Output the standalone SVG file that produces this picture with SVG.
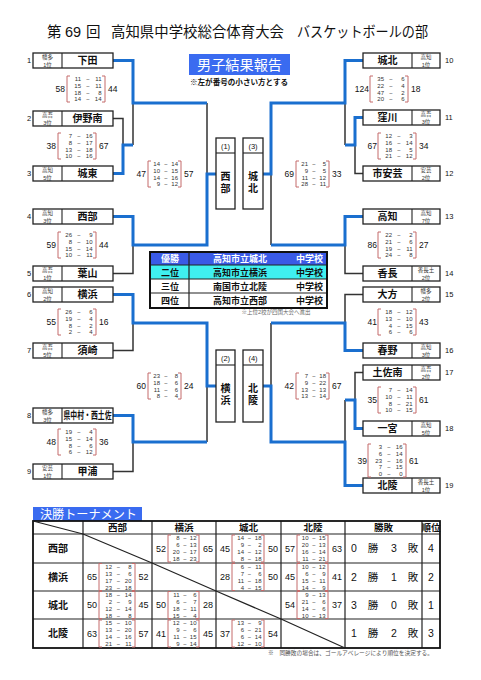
<svg xmlns="http://www.w3.org/2000/svg" width="481" height="680" viewBox="0 0 481 680">
<style>
text{font-family:"Liberation Sans","Noto Sans CJK JP",sans-serif;fill:#111}
.blue{stroke:#1a6fcf;stroke-width:3;fill:none}
.dark{stroke:#333;stroke-width:1.5;fill:none}
.box{fill:#fff;stroke:#222;stroke-width:1.3}
.dv{stroke:#222;stroke-width:1.1}
.nm{font-size:10px;font-weight:bold;text-anchor:middle}
.sm{font-size:5.5px;text-anchor:middle;fill:#333}
.no{font-size:7.5px;text-anchor:middle}
.bk path{stroke:#c46a6a;stroke-width:1;fill:none}
.s{font-size:6px;fill:#333}
.sc{font-size:8.5px}
.e{text-anchor:end}
.m{text-anchor:middle}
.tb{stroke:#222;stroke-width:1.2;fill:none}
.th{font-size:9.5px;font-weight:bold;text-anchor:middle}
.rl{font-size:10px;font-weight:bold;text-anchor:middle}
.ts{font-size:9px}
.wl{font-size:10.5px;text-anchor:middle}
.rk{font-size:9px;font-weight:bold}
</style>

<g id="title">
<text x="47" y="37" font-size="14.5">第</text>
<text x="65" y="37" font-size="14.5">69</text>
<text x="86" y="37" font-size="14.5">回</text>
<text x="111" y="37" font-size="14.5" textLength="173" lengthAdjust="spacingAndGlyphs">高知県中学校総合体育大会</text>
<text x="297" y="37" font-size="14.5" textLength="131" lengthAdjust="spacingAndGlyphs">バスケットボールの部</text>
</g>

<g id="header">
<rect x="189" y="54" width="101" height="21" fill="#3a6bf0"/>
<text x="239.5" y="70" font-size="14" fill="#fff" style="fill:#fff" text-anchor="middle" textLength="85" lengthAdjust="spacingAndGlyphs">男子結果報告</text>
<text x="239" y="85" font-size="7.5" font-weight="bold" text-anchor="middle" textLength="98" lengthAdjust="spacingAndGlyphs">※左が番号の小さい方とする</text>
</g>

<g id="connectors">
<path class="dark" d="M133 103V145M113 118.5H123V145M207 103V174M133 245V273.5H113M133 323V350.5H113M207 386V442M133 442V471.5H113"/>
<path class="dark" d="M345 103V145M355 145V173.5H363M271 174V245M345 245V273.5H363M363 294.5H345V323M271 323V386M363 372.5H355V400M345 400V442"/>
<path class="blue" d="M113 60.5H133V103H207M113 173.5H123V145H133M216 174H207V245H133V216.5H113M113 294.5H133V323H207V386H216M113 415.5H133V442H207"/>
<path class="blue" d="M363 60.5H345V103H271V174H263M363 117.5H355V145H345M363 216.5H345V245H271M271 323H345V350.5H363M345 400H355V428.5H363M263 386H271V442H345V485.5H363"/>
</g>

<g id="L1"><rect class="box" x="33" y="53" width="80" height="15"/><line class="dv" x1="62" y1="53" x2="62" y2="68"/><text class="sm" x="47.5" y="59">幡多</text><text class="sm" x="47.5" y="66.5">1位</text><text class="nm" x="87.5" y="64.3">下田</text><text class="no" x="29" y="63.2">1</text></g>
<g id="L2"><rect class="box" x="33" y="111" width="80" height="15"/><line class="dv" x1="62" y1="111" x2="62" y2="126"/><text class="sm" x="47.5" y="117">高吾</text><text class="sm" x="47.5" y="124.5">3位</text><text class="nm" x="87.5" y="122.3">伊野南</text><text class="no" x="29" y="121.2">2</text></g>
<g id="L3"><rect class="box" x="33" y="166" width="80" height="15"/><line class="dv" x1="62" y1="166" x2="62" y2="181"/><text class="sm" x="47.5" y="172">高知</text><text class="sm" x="47.5" y="179.5">5位</text><text class="nm" x="87.5" y="177.3">城東</text><text class="no" x="29" y="176.2">3</text></g>
<g id="L4"><rect class="box" x="33" y="209" width="80" height="15"/><line class="dv" x1="62" y1="209" x2="62" y2="224"/><text class="sm" x="47.5" y="215">高知</text><text class="sm" x="47.5" y="222.5">3位</text><text class="nm" x="87.5" y="220.3">西部</text><text class="no" x="29" y="219.2">4</text></g>
<g id="L5"><rect class="box" x="33" y="266" width="80" height="15"/><line class="dv" x1="62" y1="266" x2="62" y2="281"/><text class="sm" x="47.5" y="272">高吾</text><text class="sm" x="47.5" y="279.5">1位</text><text class="nm" x="87.5" y="277.3">葉山</text><text class="no" x="29" y="276.2">5</text></g>
<g id="L6"><rect class="box" x="33" y="287" width="80" height="15"/><line class="dv" x1="62" y1="287" x2="62" y2="302"/><text class="sm" x="47.5" y="293">高知</text><text class="sm" x="47.5" y="300.5">2位</text><text class="nm" x="87.5" y="298.3">横浜</text><text class="no" x="29" y="297.2">6</text></g>
<g id="L7"><rect class="box" x="33" y="343" width="80" height="15"/><line class="dv" x1="62" y1="343" x2="62" y2="358"/><text class="sm" x="47.5" y="349">高吾</text><text class="sm" x="47.5" y="356.5">5位</text><text class="nm" x="87.5" y="354.3">須崎</text><text class="no" x="29" y="353.2">7</text></g>
<g id="L8"><rect class="box" x="33" y="408" width="80" height="15"/><line class="dv" x1="62" y1="408" x2="62" y2="423"/><text class="sm" x="47.5" y="414">幡多</text><text class="sm" x="47.5" y="421.5">3位</text><text class="nm" x="87.5" y="418.8" font-size="7.5" textLength="48" lengthAdjust="spacingAndGlyphs">県中村・西土佐</text><text class="no" x="29" y="418.2">8</text></g>
<g id="L9"><rect class="box" x="33" y="464" width="80" height="15"/><line class="dv" x1="62" y1="464" x2="62" y2="479"/><text class="sm" x="47.5" y="470">安芸</text><text class="sm" x="47.5" y="477.5">1位</text><text class="nm" x="87.5" y="475.3">甲浦</text><text class="no" x="29" y="474.2">9</text></g>

<g id="R10"><rect class="box" x="363" y="53" width="77" height="15"/><line class="dv" x1="412" y1="53" x2="412" y2="68"/><text class="sm" x="426" y="59">高知</text><text class="sm" x="426" y="66.5">1位</text><text class="nm" x="387.5" y="64.3">城北</text><text x="445" y="63.2" font-size="7.5">10</text></g>
<g id="R11"><rect class="box" x="363" y="110" width="77" height="15"/><line class="dv" x1="412" y1="110" x2="412" y2="125"/><text class="sm" x="426" y="116">高吾</text><text class="sm" x="426" y="123.5">3位</text><text class="nm" x="387.5" y="121.3">窪川</text><text x="445" y="120.2" font-size="7.5">11</text></g>
<g id="R12"><rect class="box" x="363" y="166" width="77" height="15"/><line class="dv" x1="412" y1="166" x2="412" y2="181"/><text class="sm" x="426" y="172">安芸</text><text class="sm" x="426" y="179.5">2位</text><text class="nm" x="387.5" y="177.3">市安芸</text><text x="445" y="176.2" font-size="7.5">12</text></g>
<g id="R13"><rect class="box" x="363" y="209" width="77" height="15"/><line class="dv" x1="412" y1="209" x2="412" y2="224"/><text class="sm" x="426" y="215">高知</text><text class="sm" x="426" y="222.5">7位</text><text class="nm" x="387.5" y="220.3">高知</text><text x="445" y="219.2" font-size="7.5">13</text></g>
<g id="R14"><rect class="box" x="363" y="266" width="77" height="15"/><line class="dv" x1="412" y1="266" x2="412" y2="281"/><text class="sm" x="426" y="272">香長土</text><text class="sm" x="426" y="279.5">2位</text><text class="nm" x="387.5" y="277.3">香長</text><text x="445" y="276.2" font-size="7.5">14</text></g>
<g id="R15"><rect class="box" x="363" y="287" width="77" height="15"/><line class="dv" x1="412" y1="287" x2="412" y2="302"/><text class="sm" x="426" y="293">幡多</text><text class="sm" x="426" y="300.5">2位</text><text class="nm" x="387.5" y="298.3">大方</text><text x="445" y="297.2" font-size="7.5">15</text></g>
<g id="R16"><rect class="box" x="363" y="343" width="77" height="15"/><line class="dv" x1="412" y1="343" x2="412" y2="358"/><text class="sm" x="426" y="349">高知</text><text class="sm" x="426" y="356.5">3位</text><text class="nm" x="387.5" y="354.3">春野</text><text x="445" y="353.2" font-size="7.5">16</text></g>
<g id="R17"><rect class="box" x="363" y="365" width="77" height="15"/><line class="dv" x1="412" y1="365" x2="412" y2="380"/><text class="sm" x="426" y="371">高吾</text><text class="sm" x="426" y="378.5">2位</text><text class="nm" x="387.5" y="376.3">土佐南</text><text x="445" y="375.2" font-size="7.5">17</text></g>
<g id="R18"><rect class="box" x="363" y="421" width="77" height="15"/><line class="dv" x1="412" y1="421" x2="412" y2="436"/><text class="sm" x="426" y="427">高知</text><text class="sm" x="426" y="434.5">5位</text><text class="nm" x="387.5" y="432.3">一宮</text><text x="445" y="431.2" font-size="7.5">18</text></g>
<g id="R19"><rect class="box" x="363" y="478" width="77" height="15"/><line class="dv" x1="412" y1="478" x2="412" y2="493"/><text class="sm" x="426" y="484">香長土</text><text class="sm" x="426" y="491.5">1位</text><text class="nm" x="387.5" y="489.3">北陵</text><text x="445" y="488.2" font-size="7.5">19</text></g>

<g id="F1"><rect class="box" x="216" y="138" width="19" height="71"/><line class="dv" x1="216" y1="153" x2="235" y2="153"/><text x="225.5" y="148.5" font-size="7.5" text-anchor="middle">(1)</text><text class="nm" x="225.5" y="180" font-size="11">西</text><text class="nm" x="225.5" y="191.5" font-size="11">部</text></g>
<g id="F3"><rect class="box" x="243" y="138" width="20" height="71"/><line class="dv" x1="243" y1="153" x2="263" y2="153"/><text x="253" y="148.5" font-size="7.5" text-anchor="middle">(3)</text><text class="nm" x="253" y="180" font-size="11">城</text><text class="nm" x="253" y="191.5" font-size="11">北</text></g>
<g id="F2"><rect class="box" x="216" y="350" width="19" height="72"/><line class="dv" x1="216" y1="365" x2="235" y2="365"/><text x="225.5" y="360.5" font-size="7.5" text-anchor="middle">(2)</text><text class="nm" x="225.5" y="392" font-size="11">横</text><text class="nm" x="225.5" y="403.5" font-size="11">浜</text></g>
<g id="F4"><rect class="box" x="243" y="350" width="20" height="72"/><line class="dv" x1="243" y1="365" x2="263" y2="365"/><text x="253" y="360.5" font-size="7.5" text-anchor="middle">(4)</text><text class="nm" x="253" y="392" font-size="11">北</text><text class="nm" x="253" y="403.5" font-size="11">陵</text></g>

<g id="scores">
<g class="bk" transform="translate(67,89)"><path d="M3-13H0V13H3M35-13H38V13H35"/><text class="sc e" x="-2" y="3">58</text><text class="sc" x="41" y="3">44</text>
<text class="s" y="-8.1"><tspan x="14" class="e">11</tspan><tspan x="21" class="m">−</tspan><tspan x="34.5" class="e">11</tspan></text>
<text class="s" y="-1.3"><tspan x="14" class="e">15</tspan><tspan x="21" class="m">−</tspan><tspan x="34.5" class="e">11</tspan></text>
<text class="s" y="5.5"><tspan x="14" class="e">18</tspan><tspan x="21" class="m">−</tspan><tspan x="34.5" class="e">8</tspan></text>
<text class="s" y="12.3"><tspan x="14" class="e">14</tspan><tspan x="21" class="m">−</tspan><tspan x="34.5" class="e">14</tspan></text></g>

<g class="bk" transform="translate(58,146)"><path d="M3-13H0V13H3M35-13H38V13H35"/><text class="sc e" x="-2" y="3">38</text><text class="sc" x="41" y="3">67</text>
<text class="s" y="-8.1"><tspan x="14" class="e">7</tspan><tspan x="21" class="m">−</tspan><tspan x="34.5" class="e">16</tspan></text>
<text class="s" y="-1.3"><tspan x="14" class="e">8</tspan><tspan x="21" class="m">−</tspan><tspan x="34.5" class="e">17</tspan></text>
<text class="s" y="5.5"><tspan x="14" class="e">13</tspan><tspan x="21" class="m">−</tspan><tspan x="34.5" class="e">18</tspan></text>
<text class="s" y="12.3"><tspan x="14" class="e">10</tspan><tspan x="21" class="m">−</tspan><tspan x="34.5" class="e">16</tspan></text></g>

<g class="bk" transform="translate(58,245)"><path d="M3-13H0V13H3M35-13H38V13H35"/><text class="sc e" x="-2" y="3">59</text><text class="sc" x="41" y="3">44</text>
<text class="s" y="-8.1"><tspan x="14" class="e">26</tspan><tspan x="21" class="m">−</tspan><tspan x="34.5" class="e">9</tspan></text>
<text class="s" y="-1.3"><tspan x="14" class="e">8</tspan><tspan x="21" class="m">−</tspan><tspan x="34.5" class="e">10</tspan></text>
<text class="s" y="5.5"><tspan x="14" class="e">15</tspan><tspan x="21" class="m">−</tspan><tspan x="34.5" class="e">14</tspan></text>
<text class="s" y="12.3"><tspan x="14" class="e">10</tspan><tspan x="21" class="m">−</tspan><tspan x="34.5" class="e">11</tspan></text></g>

<g class="bk" transform="translate(58,322)"><path d="M3-13H0V13H3M35-13H38V13H35"/><text class="sc e" x="-2" y="3">55</text><text class="sc" x="41" y="3">16</text>
<text class="s" y="-8.1"><tspan x="14" class="e">26</tspan><tspan x="21" class="m">−</tspan><tspan x="34.5" class="e">6</tspan></text>
<text class="s" y="-1.3"><tspan x="14" class="e">19</tspan><tspan x="21" class="m">−</tspan><tspan x="34.5" class="e">4</tspan></text>
<text class="s" y="5.5"><tspan x="14" class="e">8</tspan><tspan x="21" class="m">−</tspan><tspan x="34.5" class="e">2</tspan></text>
<text class="s" y="12.3"><tspan x="14" class="e">2</tspan><tspan x="21" class="m">−</tspan><tspan x="34.5" class="e">4</tspan></text></g>

<g class="bk" transform="translate(58,442)"><path d="M3-13H0V13H3M35-13H38V13H35"/><text class="sc e" x="-2" y="3">48</text><text class="sc" x="41" y="3">36</text>
<text class="s" y="-8.1"><tspan x="14" class="e">19</tspan><tspan x="21" class="m">−</tspan><tspan x="34.5" class="e">4</tspan></text>
<text class="s" y="-1.3"><tspan x="14" class="e">15</tspan><tspan x="21" class="m">−</tspan><tspan x="34.5" class="e">14</tspan></text>
<text class="s" y="5.5"><tspan x="14" class="e">8</tspan><tspan x="21" class="m">−</tspan><tspan x="34.5" class="e">6</tspan></text>
<text class="s" y="12.3"><tspan x="14" class="e">6</tspan><tspan x="21" class="m">−</tspan><tspan x="34.5" class="e">12</tspan></text></g>

<g class="bk" transform="translate(148,174)"><path d="M3-13H0V13H3M30-13H33V13H30"/><text class="sc e" x="-2" y="3">47</text><text class="sc" x="36" y="3">57</text>
<text class="s" y="-8.1"><tspan x="12" class="e">14</tspan><tspan x="18" class="m">−</tspan><tspan x="30" class="e">14</tspan></text>
<text class="s" y="-1.3"><tspan x="12" class="e">10</tspan><tspan x="18" class="m">−</tspan><tspan x="30" class="e">15</tspan></text>
<text class="s" y="5.5"><tspan x="12" class="e">14</tspan><tspan x="18" class="m">−</tspan><tspan x="30" class="e">16</tspan></text>
<text class="s" y="12.3"><tspan x="12" class="e">9</tspan><tspan x="18" class="m">−</tspan><tspan x="30" class="e">12</tspan></text></g>

<g class="bk" transform="translate(148,386)"><path d="M3-13H0V13H3M30-13H33V13H30"/><text class="sc e" x="-2" y="3">60</text><text class="sc" x="36" y="3">24</text>
<text class="s" y="-8.1"><tspan x="12" class="e">23</tspan><tspan x="18" class="m">−</tspan><tspan x="30" class="e">8</tspan></text>
<text class="s" y="-1.3"><tspan x="12" class="e">18</tspan><tspan x="18" class="m">−</tspan><tspan x="30" class="e">6</tspan></text>
<text class="s" y="5.5"><tspan x="12" class="e">11</tspan><tspan x="18" class="m">−</tspan><tspan x="30" class="e">6</tspan></text>
<text class="s" y="12.3"><tspan x="12" class="e">8</tspan><tspan x="18" class="m">−</tspan><tspan x="30" class="e">4</tspan></text></g>

<g class="bk" transform="translate(296,174)"><path d="M3-13H0V13H3M30-13H33V13H30"/><text class="sc e" x="-2" y="3">69</text><text class="sc" x="36" y="3">33</text>
<text class="s" y="-8.1"><tspan x="12" class="e">21</tspan><tspan x="18" class="m">−</tspan><tspan x="30" class="e">5</tspan></text>
<text class="s" y="-1.3"><tspan x="12" class="e">9</tspan><tspan x="18" class="m">−</tspan><tspan x="30" class="e">5</tspan></text>
<text class="s" y="5.5"><tspan x="12" class="e">11</tspan><tspan x="18" class="m">−</tspan><tspan x="30" class="e">12</tspan></text>
<text class="s" y="12.3"><tspan x="12" class="e">28</tspan><tspan x="18" class="m">−</tspan><tspan x="30" class="e">11</tspan></text></g>

<g class="bk" transform="translate(296,386)"><path d="M3-13H0V13H3M30-13H33V13H30"/><text class="sc e" x="-2" y="3">42</text><text class="sc" x="36" y="3">67</text>
<text class="s" y="-8.1"><tspan x="12" class="e">7</tspan><tspan x="18" class="m">−</tspan><tspan x="30" class="e">18</tspan></text>
<text class="s" y="-1.3"><tspan x="12" class="e">9</tspan><tspan x="18" class="m">−</tspan><tspan x="30" class="e">22</tspan></text>
<text class="s" y="5.5"><tspan x="12" class="e">13</tspan><tspan x="18" class="m">−</tspan><tspan x="30" class="e">13</tspan></text>
<text class="s" y="12.3"><tspan x="12" class="e">13</tspan><tspan x="18" class="m">−</tspan><tspan x="30" class="e">14</tspan></text></g>

<g class="bk" transform="translate(370,89)"><path d="M3-13H0V13H3M35-13H38V13H35"/><text class="sc e" x="-1" y="3">124</text><text class="sc" x="41" y="3">18</text>
<text class="s" y="-8.1"><tspan x="14" class="e">35</tspan><tspan x="21" class="m">−</tspan><tspan x="34.5" class="e">6</tspan></text>
<text class="s" y="-1.3"><tspan x="14" class="e">22</tspan><tspan x="21" class="m">−</tspan><tspan x="34.5" class="e">4</tspan></text>
<text class="s" y="5.5"><tspan x="14" class="e">47</tspan><tspan x="21" class="m">−</tspan><tspan x="34.5" class="e">2</tspan></text>
<text class="s" y="12.3"><tspan x="14" class="e">20</tspan><tspan x="21" class="m">−</tspan><tspan x="34.5" class="e">6</tspan></text></g>

<g class="bk" transform="translate(378,146)"><path d="M3-13H0V13H3M35-13H38V13H35"/><text class="sc e" x="-1" y="3">67</text><text class="sc" x="41" y="3">34</text>
<text class="s" y="-8.1"><tspan x="14" class="e">12</tspan><tspan x="21" class="m">−</tspan><tspan x="34.5" class="e">3</tspan></text>
<text class="s" y="-1.3"><tspan x="14" class="e">16</tspan><tspan x="21" class="m">−</tspan><tspan x="34.5" class="e">14</tspan></text>
<text class="s" y="5.5"><tspan x="14" class="e">18</tspan><tspan x="21" class="m">−</tspan><tspan x="34.5" class="e">5</tspan></text>
<text class="s" y="12.3"><tspan x="14" class="e">21</tspan><tspan x="21" class="m">−</tspan><tspan x="34.5" class="e">12</tspan></text></g>

<g class="bk" transform="translate(378,245)"><path d="M3-13H0V13H3M35-13H38V13H35"/><text class="sc e" x="-1" y="3">86</text><text class="sc" x="41" y="3">27</text>
<text class="s" y="-8.1"><tspan x="14" class="e">22</tspan><tspan x="21" class="m">−</tspan><tspan x="34.5" class="e">2</tspan></text>
<text class="s" y="-1.3"><tspan x="14" class="e">21</tspan><tspan x="21" class="m">−</tspan><tspan x="34.5" class="e">6</tspan></text>
<text class="s" y="5.5"><tspan x="14" class="e">19</tspan><tspan x="21" class="m">−</tspan><tspan x="34.5" class="e">11</tspan></text>
<text class="s" y="12.3"><tspan x="14" class="e">24</tspan><tspan x="21" class="m">−</tspan><tspan x="34.5" class="e">8</tspan></text></g>

<g class="bk" transform="translate(378,322)"><path d="M3-13H0V13H3M35-13H38V13H35"/><text class="sc e" x="-1" y="3">41</text><text class="sc" x="41" y="3">43</text>
<text class="s" y="-8.1"><tspan x="14" class="e">18</tspan><tspan x="21" class="m">−</tspan><tspan x="34.5" class="e">12</tspan></text>
<text class="s" y="-1.3"><tspan x="14" class="e">13</tspan><tspan x="21" class="m">−</tspan><tspan x="34.5" class="e">10</tspan></text>
<text class="s" y="5.5"><tspan x="14" class="e">4</tspan><tspan x="21" class="m">−</tspan><tspan x="34.5" class="e">15</tspan></text>
<text class="s" y="12.3"><tspan x="14" class="e">6</tspan><tspan x="21" class="m">−</tspan><tspan x="34.5" class="e">6</tspan></text></g>

<g class="bk" transform="translate(378,400)"><path d="M3-13H0V13H3M35-13H38V13H35"/><text class="sc e" x="-1" y="3">35</text><text class="sc" x="41" y="3">61</text>
<text class="s" y="-8.1"><tspan x="14" class="e">7</tspan><tspan x="21" class="m">−</tspan><tspan x="34.5" class="e">14</tspan></text>
<text class="s" y="-1.3"><tspan x="14" class="e">10</tspan><tspan x="21" class="m">−</tspan><tspan x="34.5" class="e">11</tspan></text>
<text class="s" y="5.5"><tspan x="14" class="e">8</tspan><tspan x="21" class="m">−</tspan><tspan x="34.5" class="e">21</tspan></text>
<text class="s" y="12.3"><tspan x="14" class="e">10</tspan><tspan x="21" class="m">−</tspan><tspan x="34.5" class="e">15</tspan></text></g>

<g class="bk" transform="translate(368,460.5)"><path d="M3-16.5H0V16.5H3M35-16.5H38V16.5H35"/><text class="sc e" x="-1" y="3">39</text><text class="sc" x="41" y="3">61</text>
<text class="s" y="-11.5"><tspan x="14" class="e">3</tspan><tspan x="21" class="m">−</tspan><tspan x="34.5" class="e">16</tspan></text>
<text class="s" y="-4.7"><tspan x="14" class="e">6</tspan><tspan x="21" class="m">−</tspan><tspan x="34.5" class="e">14</tspan></text>
<text class="s" y="2.1"><tspan x="14" class="e">23</tspan><tspan x="21" class="m">−</tspan><tspan x="34.5" class="e">16</tspan></text>
<text class="s" y="8.9"><tspan x="14" class="e">7</tspan><tspan x="21" class="m">−</tspan><tspan x="34.5" class="e">15</tspan></text>
<text class="s" y="15.7"><tspan x="14" class="e">0</tspan><tspan x="21" class="m">−</tspan><tspan x="34.5" class="e">0</tspan></text></g>
</g>

<g id="ranking">
<rect x="150" y="252" width="177" height="13" fill="#3a5ae6"/>
<rect x="150" y="265" width="177" height="14" fill="#3ff0f0"/>
<path class="tb" d="M150 265H327M150 279H327M150 293H327M189 252V308"/>
<rect x="150" y="252" width="177" height="56" fill="none" stroke="#111" stroke-width="2"/>
<text class="rk" x="170" y="262" text-anchor="middle" style="fill:#fff">優勝</text>
<text class="rk" x="240" y="262" text-anchor="middle" style="fill:#fff">高知市立城北</text>
<text class="rk" x="323" y="262" text-anchor="end" style="fill:#fff">中学校</text>
<text class="rk" x="170" y="275.5" text-anchor="middle">二位</text>
<text class="rk" x="240" y="275.5" text-anchor="middle">高知市立横浜</text>
<text class="rk" x="323" y="275.5" text-anchor="end">中学校</text>
<text class="rk" x="170" y="289.5" text-anchor="middle">三位</text>
<text class="rk" x="240" y="289.5" text-anchor="middle">南国市立北陵</text>
<text class="rk" x="323" y="289.5" text-anchor="end">中学校</text>
<text class="rk" x="170" y="304" text-anchor="middle">四位</text>
<text class="rk" x="240" y="304" text-anchor="middle">高知市立西部</text>
<text class="rk" x="323" y="304" text-anchor="end">中学校</text>
<text x="276" y="314" font-size="5.5" text-anchor="middle" style="fill:#666">※上位2校が四国大会へ進出</text>
</g>

<g id="final">
<rect x="33" y="507" width="109" height="14" fill="#3a6bf0"/>
<text x="40" y="519" font-size="12" style="fill:#fff" textLength="97" lengthAdjust="spacingAndGlyphs">決勝トーナメント</text>
<path class="tb" d="M33 534H440M33 563H440M33 591H440M33 619H440M83 521V648M152 521V648M216 521V648M281 521V648M345 521V648M422 521V648"/>
<rect x="33" y="521" width="407" height="127" fill="none" stroke="#111" stroke-width="1.8"/>
<path class="tb" d="M33 521L83 534M83 534L152 563M152 563L216 591M216 591L281 619M281 619L345 648" stroke-width="1.5"/>
<text class="th" x="117.5" y="531">西部</text>
<text class="th" x="184" y="531">横浜</text>
<text class="th" x="248.5" y="531">城北</text>
<text class="th" x="313" y="531">北陵</text>
<text class="th" x="383.5" y="531">勝敗</text>
<text class="th" x="431" y="531">順位</text>
<text class="rl" x="58" y="552">西部</text>
<text class="rl" x="58" y="580.5">横浜</text>
<text class="rl" x="58" y="608.5">城北</text>
<text class="rl" x="58" y="637">北陵</text>

<g class="wl">
<text x="354" y="552.3">0</text><text x="373" y="552.3">勝</text><text x="394" y="552.3">3</text><text x="413" y="552.3">敗</text><text x="431" y="552.3">4</text>
<text x="354" y="580.8">2</text><text x="373" y="580.8">勝</text><text x="394" y="580.8">1</text><text x="413" y="580.8">敗</text><text x="431" y="580.8">2</text>
<text x="354" y="608.8">3</text><text x="373" y="608.8">勝</text><text x="394" y="608.8">0</text><text x="413" y="608.8">敗</text><text x="431" y="608.8">1</text>
<text x="354" y="637.3">1</text><text x="373" y="637.3">勝</text><text x="394" y="637.3">2</text><text x="413" y="637.3">敗</text><text x="431" y="637.3">3</text>
</g>

<g class="bk" transform="translate(168,548.5)"><path d="M3-13.5H0V13.5H3M28-13.5H31V13.5H28"/><text class="ts e" x="-2" y="3.2">52</text><text class="ts" x="35" y="3.2">65</text>
<text class="s" y="-8.4"><tspan x="11.5" class="e">8</tspan><tspan x="17" class="m">−</tspan><tspan x="28.5" class="e">12</tspan></text>
<text class="s" y="-1.4"><tspan x="11.5" class="e">6</tspan><tspan x="17" class="m">−</tspan><tspan x="28.5" class="e">13</tspan></text>
<text class="s" y="5.6"><tspan x="11.5" class="e">20</tspan><tspan x="17" class="m">−</tspan><tspan x="28.5" class="e">17</tspan></text>
<text class="s" y="12.6"><tspan x="11.5" class="e">18</tspan><tspan x="17" class="m">−</tspan><tspan x="28.5" class="e">23</tspan></text></g>

<g class="bk" transform="translate(232,548.5)"><path d="M3-13.5H0V13.5H3M29-13.5H32V13.5H29"/><text class="ts e" x="-2" y="3.2">45</text><text class="ts" x="36" y="3.2">50</text>
<text class="s" y="-8.4"><tspan x="12" class="e">14</tspan><tspan x="17.5" class="m">−</tspan><tspan x="29.5" class="e">18</tspan></text>
<text class="s" y="-1.4"><tspan x="12" class="e">9</tspan><tspan x="17.5" class="m">−</tspan><tspan x="29.5" class="e">2</tspan></text>
<text class="s" y="5.6"><tspan x="12" class="e">14</tspan><tspan x="17.5" class="m">−</tspan><tspan x="29.5" class="e">12</tspan></text>
<text class="s" y="12.6"><tspan x="12" class="e">8</tspan><tspan x="17.5" class="m">−</tspan><tspan x="29.5" class="e">18</tspan></text></g>

<g class="bk" transform="translate(297,548.5)"><path d="M3-13.5H0V13.5H3M28-13.5H31V13.5H28"/><text class="ts e" x="-2" y="3.2">57</text><text class="ts" x="35" y="3.2">63</text>
<text class="s" y="-8.4"><tspan x="11.5" class="e">10</tspan><tspan x="17" class="m">−</tspan><tspan x="28.5" class="e">15</tspan></text>
<text class="s" y="-1.4"><tspan x="11.5" class="e">20</tspan><tspan x="17" class="m">−</tspan><tspan x="28.5" class="e">13</tspan></text>
<text class="s" y="5.6"><tspan x="11.5" class="e">16</tspan><tspan x="17" class="m">−</tspan><tspan x="28.5" class="e">14</tspan></text>
<text class="s" y="12.6"><tspan x="11.5" class="e">11</tspan><tspan x="17" class="m">−</tspan><tspan x="28.5" class="e">21</tspan></text></g>

<g class="bk" transform="translate(99,577)"><path d="M3-13.5H0V13.5H3M33-13.5H36V13.5H33"/><text class="ts e" x="-2" y="3.2">65</text><text class="ts" x="39.5" y="3.2">52</text>
<text class="s" y="-8.4"><tspan x="13" class="e">12</tspan><tspan x="19.5" class="m">−</tspan><tspan x="32.5" class="e">8</tspan></text>
<text class="s" y="-1.4"><tspan x="13" class="e">13</tspan><tspan x="19.5" class="m">−</tspan><tspan x="32.5" class="e">6</tspan></text>
<text class="s" y="5.6"><tspan x="13" class="e">17</tspan><tspan x="19.5" class="m">−</tspan><tspan x="32.5" class="e">20</tspan></text>
<text class="s" y="12.6"><tspan x="13" class="e">23</tspan><tspan x="19.5" class="m">−</tspan><tspan x="32.5" class="e">18</tspan></text></g>

<g class="bk" transform="translate(232,577)"><path d="M3-13.5H0V13.5H3M29-13.5H32V13.5H29"/><text class="ts e" x="-2" y="3.2">28</text><text class="ts" x="36" y="3.2">50</text>
<text class="s" y="-8.4"><tspan x="12" class="e">6</tspan><tspan x="17.5" class="m">−</tspan><tspan x="29.5" class="e">11</tspan></text>
<text class="s" y="-1.4"><tspan x="12" class="e">7</tspan><tspan x="17.5" class="m">−</tspan><tspan x="29.5" class="e">6</tspan></text>
<text class="s" y="5.6"><tspan x="12" class="e">11</tspan><tspan x="17.5" class="m">−</tspan><tspan x="29.5" class="e">18</tspan></text>
<text class="s" y="12.6"><tspan x="12" class="e">4</tspan><tspan x="17.5" class="m">−</tspan><tspan x="29.5" class="e">15</tspan></text></g>

<g class="bk" transform="translate(297,577)"><path d="M3-13.5H0V13.5H3M28-13.5H31V13.5H28"/><text class="ts e" x="-2" y="3.2">45</text><text class="ts" x="35" y="3.2">41</text>
<text class="s" y="-8.4"><tspan x="11.5" class="e">10</tspan><tspan x="17" class="m">−</tspan><tspan x="28.5" class="e">12</tspan></text>
<text class="s" y="-1.4"><tspan x="11.5" class="e">6</tspan><tspan x="17" class="m">−</tspan><tspan x="28.5" class="e">9</tspan></text>
<text class="s" y="5.6"><tspan x="11.5" class="e">15</tspan><tspan x="17" class="m">−</tspan><tspan x="28.5" class="e">11</tspan></text>
<text class="s" y="12.6"><tspan x="11.5" class="e">14</tspan><tspan x="17" class="m">−</tspan><tspan x="28.5" class="e">9</tspan></text></g>

<g class="bk" transform="translate(99,605)"><path d="M3-13.5H0V13.5H3M33-13.5H36V13.5H33"/><text class="ts e" x="-2" y="3.2">50</text><text class="ts" x="39.5" y="3.2">45</text>
<text class="s" y="-8.4"><tspan x="13" class="e">18</tspan><tspan x="19.5" class="m">−</tspan><tspan x="32.5" class="e">14</tspan></text>
<text class="s" y="-1.4"><tspan x="13" class="e">2</tspan><tspan x="19.5" class="m">−</tspan><tspan x="32.5" class="e">9</tspan></text>
<text class="s" y="5.6"><tspan x="13" class="e">12</tspan><tspan x="19.5" class="m">−</tspan><tspan x="32.5" class="e">14</tspan></text>
<text class="s" y="12.6"><tspan x="13" class="e">18</tspan><tspan x="19.5" class="m">−</tspan><tspan x="32.5" class="e">8</tspan></text></g>

<g class="bk" transform="translate(168,605)"><path d="M3-13.5H0V13.5H3M28-13.5H31V13.5H28"/><text class="ts e" x="-2" y="3.2">50</text><text class="ts" x="35" y="3.2">28</text>
<text class="s" y="-8.4"><tspan x="11.5" class="e">11</tspan><tspan x="17" class="m">−</tspan><tspan x="28.5" class="e">6</tspan></text>
<text class="s" y="-1.4"><tspan x="11.5" class="e">6</tspan><tspan x="17" class="m">−</tspan><tspan x="28.5" class="e">7</tspan></text>
<text class="s" y="5.6"><tspan x="11.5" class="e">18</tspan><tspan x="17" class="m">−</tspan><tspan x="28.5" class="e">11</tspan></text>
<text class="s" y="12.6"><tspan x="11.5" class="e">15</tspan><tspan x="17" class="m">−</tspan><tspan x="28.5" class="e">4</tspan></text></g>

<g class="bk" transform="translate(297,605)"><path d="M3-13.5H0V13.5H3M28-13.5H31V13.5H28"/><text class="ts e" x="-2" y="3.2">54</text><text class="ts" x="35" y="3.2">37</text>
<text class="s" y="-8.4"><tspan x="11.5" class="e">9</tspan><tspan x="17" class="m">−</tspan><tspan x="28.5" class="e">13</tspan></text>
<text class="s" y="-1.4"><tspan x="11.5" class="e">21</tspan><tspan x="17" class="m">−</tspan><tspan x="28.5" class="e">6</tspan></text>
<text class="s" y="5.6"><tspan x="11.5" class="e">14</tspan><tspan x="17" class="m">−</tspan><tspan x="28.5" class="e">6</tspan></text>
<text class="s" y="12.6"><tspan x="11.5" class="e">10</tspan><tspan x="17" class="m">−</tspan><tspan x="28.5" class="e">13</tspan></text></g>

<g class="bk" transform="translate(99,633.5)"><path d="M3-13.5H0V13.5H3M33-13.5H36V13.5H33"/><text class="ts e" x="-2" y="3.2">63</text><text class="ts" x="39.5" y="3.2">57</text>
<text class="s" y="-8.4"><tspan x="13" class="e">15</tspan><tspan x="19.5" class="m">−</tspan><tspan x="32.5" class="e">10</tspan></text>
<text class="s" y="-1.4"><tspan x="13" class="e">13</tspan><tspan x="19.5" class="m">−</tspan><tspan x="32.5" class="e">20</tspan></text>
<text class="s" y="5.6"><tspan x="13" class="e">14</tspan><tspan x="19.5" class="m">−</tspan><tspan x="32.5" class="e">16</tspan></text>
<text class="s" y="12.6"><tspan x="13" class="e">21</tspan><tspan x="19.5" class="m">−</tspan><tspan x="32.5" class="e">11</tspan></text></g>

<g class="bk" transform="translate(168,633.5)"><path d="M3-13.5H0V13.5H3M28-13.5H31V13.5H28"/><text class="ts e" x="-2" y="3.2">41</text><text class="ts" x="35" y="3.2">45</text>
<text class="s" y="-8.4"><tspan x="11.5" class="e">12</tspan><tspan x="17" class="m">−</tspan><tspan x="28.5" class="e">10</tspan></text>
<text class="s" y="-1.4"><tspan x="11.5" class="e">9</tspan><tspan x="17" class="m">−</tspan><tspan x="28.5" class="e">6</tspan></text>
<text class="s" y="5.6"><tspan x="11.5" class="e">11</tspan><tspan x="17" class="m">−</tspan><tspan x="28.5" class="e">15</tspan></text>
<text class="s" y="12.6"><tspan x="11.5" class="e">9</tspan><tspan x="17" class="m">−</tspan><tspan x="28.5" class="e">14</tspan></text></g>

<g class="bk" transform="translate(232,633.5)"><path d="M3-13.5H0V13.5H3M29-13.5H32V13.5H29"/><text class="ts e" x="-2" y="3.2">37</text><text class="ts" x="36" y="3.2">54</text>
<text class="s" y="-8.4"><tspan x="12" class="e">13</tspan><tspan x="17.5" class="m">−</tspan><tspan x="29.5" class="e">9</tspan></text>
<text class="s" y="-1.4"><tspan x="12" class="e">6</tspan><tspan x="17.5" class="m">−</tspan><tspan x="29.5" class="e">21</tspan></text>
<text class="s" y="5.6"><tspan x="12" class="e">6</tspan><tspan x="17.5" class="m">−</tspan><tspan x="29.5" class="e">14</tspan></text>
<text class="s" y="12.6"><tspan x="12" class="e">12</tspan><tspan x="17.5" class="m">−</tspan><tspan x="29.5" class="e">10</tspan></text></g>

<text x="268" y="655" font-size="6.2" style="fill:#555" textLength="165" lengthAdjust="spacingAndGlyphs">※　同勝敗の場合は、ゴールアベレージにより順位を決定する。</text>
</g>
</svg>
